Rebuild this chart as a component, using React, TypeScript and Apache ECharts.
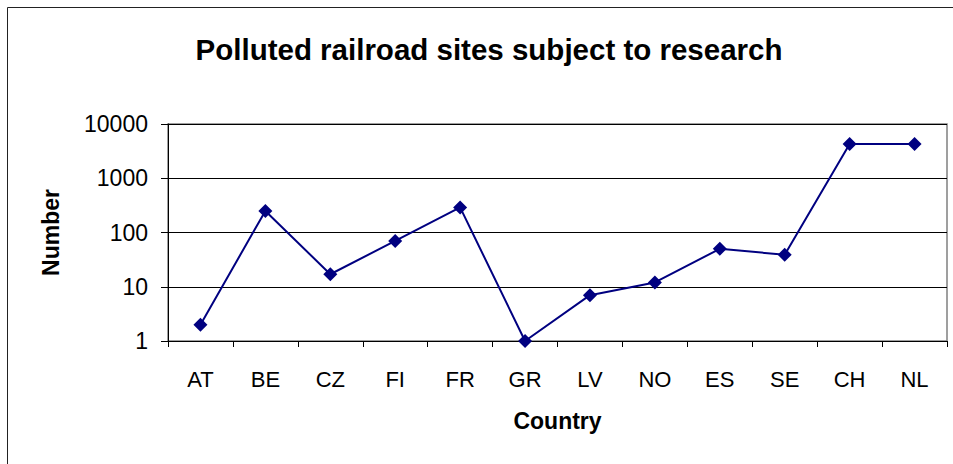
import React, { useEffect, useRef } from "react";
import * as echarts from "echarts";

const categories = ["AT", "BE", "CZ", "FI", "FR", "GR", "LV", "NO", "ES", "SE", "CH", "NL"];
const siteCounts = [2, 250, 17, 70, 290, 1, 7, 12, 50, 39, 4300, 4300];
const titleText = "Polluted railroad sites subject to research";
const xAxisName = "Country";
const yAxisName = "Number";

const FONT = "'Liberation Sans', Arial, sans-serif";

export default function App() {
  const ref = useRef<HTMLDivElement>(null);
  useEffect(() => {
    document.body.style.margin = "0";
    const chart = echarts.init(ref.current!, undefined, { renderer: "svg" });
    chart.setOption({
      animation: false,
      backgroundColor: "#ffffff",
      title: {
        text: titleText,
        left: 484,
        top: 29,
        textAlign: "center",
        textStyle: { fontFamily: FONT, fontSize: 29.5, fontWeight: "bold", color: "#000" },
      },
      graphic: [
        {
          type: "polyline",
          shape: { points: [[7.5, 470], [7.5, 7.5], [960, 7.5]] },
          style: { stroke: "#222", lineWidth: 1, fill: "none" },
          silent: true,
        },
        {
          type: "rect",
          shape: { x: 168, y: 124, width: 779, height: 217 },
          style: { stroke: "#808080", lineWidth: 1.5, fill: "none" },
          silent: true,
          z: 0,
        },
      ],
      grid: { left: 168, right: 6, top: 124, bottom: 123, containLabel: false },
      xAxis: {
        type: "category",
        data: categories,
        boundaryGap: true,
        name: xAxisName,
        nameLocation: "middle",
        nameGap: 68,
        nameTextStyle: { fontFamily: FONT, fontSize: 23, fontWeight: "bold", color: "#000" },
        axisLine: { lineStyle: { color: "#000", width: 1 } },
        axisTick: { show: true, length: 6, inside: false, alignWithLabel: false, lineStyle: { color: "#000" } },
        axisLabel: { fontFamily: FONT, fontSize: 22, color: "#000", margin: 27, interval: 0 },
        splitLine: { show: false },
      },
      yAxis: {
        type: "log",
        logBase: 10,
        min: 1,
        max: 10000,
        name: yAxisName,
        nameLocation: "middle",
        nameGap: 106,
        nameRotate: 90,
        nameTextStyle: { fontFamily: FONT, fontSize: 23, fontWeight: "bold", color: "#000" },
        axisLine: { show: true, lineStyle: { color: "#000", width: 1 } },
        axisTick: { show: true, length: 7, lineStyle: { color: "#000" } },
        axisLabel: {
          fontFamily: FONT,
          fontSize: 23,
          color: "#000",
          margin: 20,
          formatter: (v: number) => String(Math.round(v)),
        },
        splitLine: { show: true, lineStyle: { color: "#000", width: 1 } },
        minorTick: { show: false },
      },
      series: [
        {
          type: "line",
          data: siteCounts,
          symbol: "path://M0,-1L1,0L0,1L-1,0Z",
          symbolSize: 14,
          itemStyle: { color: "#000080" },
          lineStyle: { color: "#000080", width: 2 },
          z: 5,
        },
      ],
    });
    return () => chart.dispose();
  }, []);
  return <div ref={ref} style={{ width: 953, height: 464 }} />;
}
